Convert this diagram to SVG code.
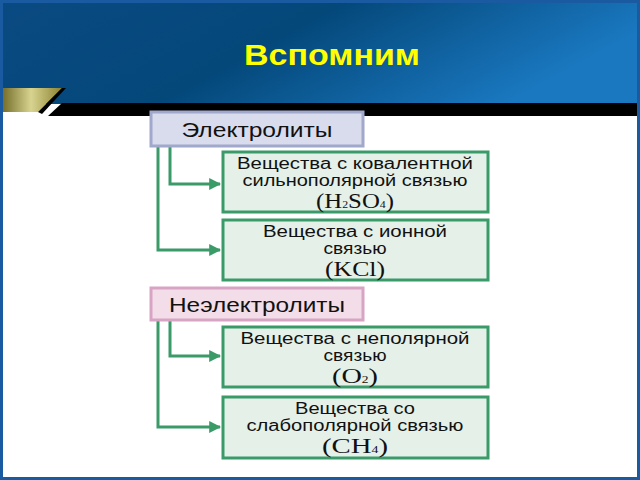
<svg xmlns="http://www.w3.org/2000/svg" width="640" height="480" viewBox="0 0 640 480">
<defs>
<linearGradient id="hdr" x1="0" y1="0" x2="1" y2="0.3">
<stop offset="0" stop-color="#0a4a82"/><stop offset="0.5" stop-color="#04487a"/><stop offset="1" stop-color="#1a78c0"/>
</linearGradient>
<linearGradient id="gold" x1="0" y1="0" x2="1" y2="0">
<stop offset="0" stop-color="#6a6420"/><stop offset="0.5" stop-color="#d8d490"/><stop offset="1" stop-color="#8a8030"/>
</linearGradient>
<marker id="ar" viewBox="0 0 10 10" refX="9" refY="5" markerWidth="4" markerHeight="4" orient="auto"><path d="M0,0L10,5L0,10z" fill="#3a9a68"/></marker>
<style>
.g{fill:#e4f0e8;stroke:#3a9a68;stroke-width:3}
.t{font-family:"Liberation Sans",Arial,sans-serif;font-size:16px;fill:#111;text-anchor:middle}
.f{font-family:"Liberation Serif","Times New Roman",serif;font-size:21px;fill:#111;text-anchor:middle}
.h{font-family:"Liberation Sans",Arial,sans-serif;font-size:20px;fill:#111;text-anchor:middle}
.c{fill:none;stroke:#3a9a68;stroke-width:3;marker-end:url(#ar)}
</style>
</defs>
<rect width="640" height="480" fill="#fff"/>
<rect x="0" y="0" width="640" height="104" fill="url(#hdr)"/>
<text x="332" y="65" font-family="Liberation Sans,Arial,sans-serif" font-weight="bold" font-size="29" fill="#ffff00" text-anchor="middle" textLength="176" lengthAdjust="spacingAndGlyphs">Вспомним</text>
<polygon points="62,103 640,103 640,116 48,116" fill="#000"/>
<polygon points="0,88 62,88 38,112 0,112" fill="url(#gold)"/>
<polygon points="62,88 66,88 42,114 38,112" fill="#000"/>
<rect x="1.5" y="1.5" width="637" height="477" fill="none" stroke="#1a5aa0" stroke-width="3"/>
<g id="connectors">
<path class="c" d="M170,146V184H220"/>
<path class="c" d="M158,146V250H220"/>
<path class="c" d="M170,320V356H220"/>
<path class="c" d="M158,320V427H220"/>
</g>
<g id="n1"><rect x="151" y="112" width="212" height="34" fill="#d8dcec" stroke="#a0a8cc" stroke-width="3"/><text class="h" x="257" y="137" textLength="151" lengthAdjust="spacingAndGlyphs">Электролиты</text></g>
<g id="n2"><rect class="g" x="223" y="152" width="265" height="60"/><text class="t" x="355" y="169" textLength="236" lengthAdjust="spacingAndGlyphs">Вещества с ковалентной</text><text class="t" x="355" y="186" textLength="225" lengthAdjust="spacingAndGlyphs">сильнополярной связью</text><text class="f" x="355" y="208" textLength="78" lengthAdjust="spacingAndGlyphs">(H<tspan font-size="10">2</tspan>SO<tspan font-size="10">4</tspan>)</text></g>
<g id="n3"><rect class="g" x="223" y="220" width="265" height="60"/><text class="t" x="355" y="237" textLength="184" lengthAdjust="spacingAndGlyphs">Вещества с ионной</text><text class="t" x="355" y="254" textLength="63" lengthAdjust="spacingAndGlyphs">связью</text><text class="f" x="355" y="276" textLength="60" lengthAdjust="spacingAndGlyphs">(KCl)</text></g>
<g id="n4"><rect x="151" y="288" width="212" height="32" fill="#f2dde8" stroke="#d8a4c4" stroke-width="3"/><text class="h" x="257" y="312" textLength="176" lengthAdjust="spacingAndGlyphs">Неэлектролиты</text></g>
<g id="n5"><rect class="g" x="223" y="327" width="265" height="60"/><text class="t" x="355" y="344" textLength="229" lengthAdjust="spacingAndGlyphs">Вещества с неполярной</text><text class="t" x="355" y="361" textLength="63" lengthAdjust="spacingAndGlyphs">связью</text><text class="f" x="355" y="383" textLength="46" lengthAdjust="spacingAndGlyphs">(O<tspan font-size="10">2</tspan>)</text></g>
<g id="n6"><rect class="g" x="223" y="397" width="265" height="61"/><text class="t" x="355" y="414" textLength="120" lengthAdjust="spacingAndGlyphs">Вещества со</text><text class="t" x="355" y="431" textLength="217" lengthAdjust="spacingAndGlyphs">слабополярной связью</text><text class="f" x="355" y="453" textLength="66" lengthAdjust="spacingAndGlyphs">(CH<tspan font-size="10">4</tspan>)</text></g>
</svg>
